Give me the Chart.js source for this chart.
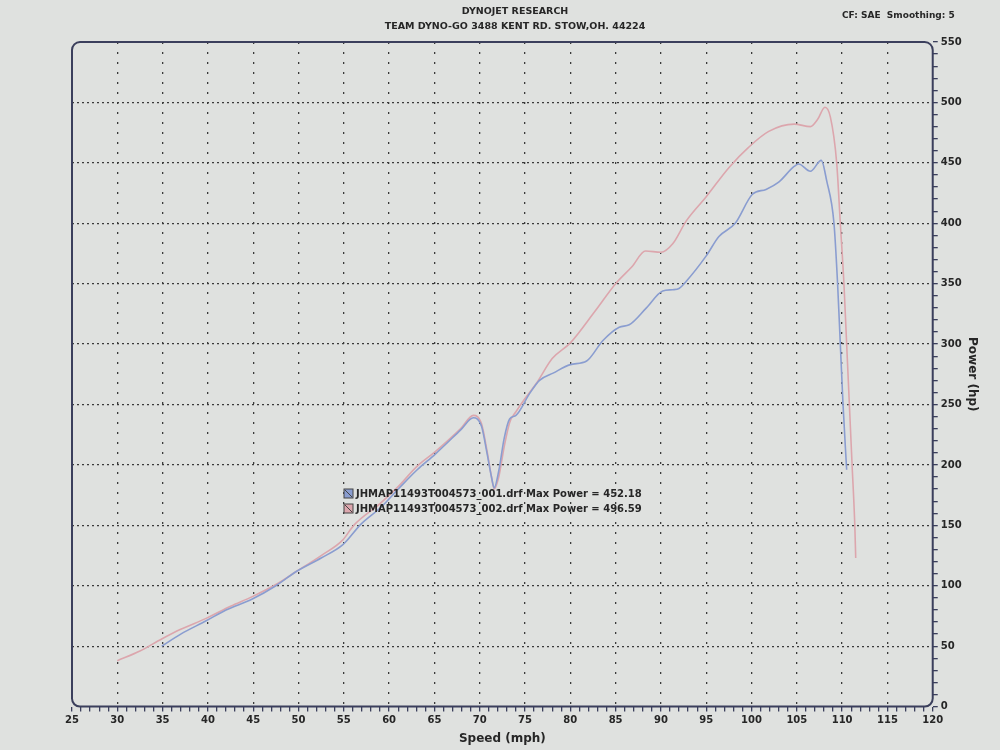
<!DOCTYPE html>
<html>
<head>
<meta charset="utf-8">
<script src="https://cdn.jsdelivr.net/npm/chart.js@4.4.1/dist/chart.umd.min.js"></script>
<style>
  html, body { margin: 0; padding: 0; background: #dfe1df; }
</style>
</head>
<body>
<canvas id="dyno" width="1000" height="750"></canvas>
<script>
// header texts
const headerLines = ['DYNOJET RESEARCH', 'TEAM DYNO-GO 3488 KENT RD. STOW,OH. 44224'];
const cornerNote = 'CF: SAE  Smoothing: 5';

// run names and peak values, as printed in the legend
const runNames = ['JHMAP11493T004573_001.drf', 'JHMAP11493T004573_002.drf'];
const maxPower = ['452.18', '496.59'];

// axis ranges (mph / hp)
const speedMin = 25, speedMax = 120, speedLabelStep = 5;
const powerMin = 0, powerMax = 550, powerLabelStep = 50;

// run 001 (blue)
const speedRun1 = [34.9, 37, 39.8, 42, 44.9, 47.5, 49.8, 52.5, 54.9, 56.9, 59.1, 61, 63.1, 65.1, 67.9, 69.3,
  70.2, 70.8, 71.3, 71.6, 72.1, 72.7, 73.3, 74, 75.5, 76.6, 78.1, 80, 81.8, 83.6, 85.4, 86.5, 88.4, 90.2,
  91.3, 92, 92.8, 95, 96.4, 98.2, 100.1, 101.6, 103, 104.7, 105.2, 106.5, 107.7, 108.3, 109.1, 109.5,
  109.8, 110.1, 110.5];
const powerRun1 = [50, 60, 71, 80, 89, 100, 112, 123, 134, 151, 165, 180, 196, 209, 229, 239,
  232, 210, 190, 181, 195, 222, 238, 241, 259, 270, 276, 283, 286, 303, 314, 316, 330, 344,
  345, 346, 352, 373, 389, 400, 424, 428, 434, 447, 449, 443, 452, 435, 400, 350,
  300, 250, 196];

// run 002 (red)
const speedRun2 = [30, 32.5, 34.9, 37, 39.8, 42.5, 44.9, 47.5, 49.8, 52.5, 54.9, 56.1, 59, 61, 63.1, 65.1,
  67.9, 69.3, 70.2, 70.8, 71.3, 71.6, 72.1, 72.7, 73.3, 74, 75, 76.3, 78, 80, 82.7, 85, 86.8, 88.3, 90,
  91.3, 92.8, 95, 97.5, 99.7, 101.9, 104.7, 106.5, 107.3, 108.1, 108.7, 109.4, 109.8, 110.2, 110.5,
  110.8, 111.1, 111.4, 111.5];
const powerRun2 = [38, 46, 56, 64, 73, 83, 91, 101, 112, 125, 138, 150, 168, 182, 199, 211,
  230, 241, 234, 212, 190, 180, 190, 215, 235, 244, 255, 268, 288, 301, 327, 350, 364, 377, 376,
  383, 402, 422, 446, 463, 476, 482, 480, 486, 496, 488, 450, 400, 350, 300,
  250, 200, 150, 123];

const blueLine = '#8a9dd0';
const redLine = '#dca6ad';
const ink = '#262626';
const frame = '#3b3f5c';
const gridDots = '#3a3a3a';

function toPoints(xs, ys) {
  return xs.map((x, i) => ({ x: x, y: ys[i] }));
}

const sheetPlugin = {
  id: 'sheet',
  beforeDraw(chart) {
    const ctx = chart.ctx;
    ctx.save();
    ctx.fillStyle = '#dfe1df';
    ctx.fillRect(0, 0, chart.width, chart.height);
    ctx.restore();
  },
  beforeDatasetsDraw(chart) {
    // rounded frame round the plot
    const a = chart.chartArea;
    const ctx = chart.ctx;
    ctx.save();
    ctx.strokeStyle = frame;
    ctx.lineWidth = 2;
    ctx.beginPath();
    ctx.roundRect(a.left, a.top, a.right - a.left, a.bottom - a.top, 8);
    ctx.stroke();
    ctx.restore();
  },
  afterDraw(chart) {
    const ctx = chart.ctx;
    ctx.save();
    ctx.fillStyle = ink;
    ctx.textBaseline = 'middle';
    ctx.textAlign = 'center';
    ctx.font = 'bold 9.5px "DejaVu Sans"';
    ctx.fillText(headerLines[0], 515, 12);
    ctx.fillText(headerLines[1], 515, 27);
    ctx.textAlign = 'left';
    ctx.font = 'bold 9px "DejaVu Sans"';
    ctx.fillText(cornerNote, 842, 16);

    // legend inside the plot
    const colors = [blueLine, redLine];
    ctx.font = 'bold 10px "DejaVu Sans"';
    for (let i = 0; i < 2; i++) {
      const y = 494 + i * 15;
      ctx.fillStyle = colors[i];
      ctx.fillRect(344, y - 5, 9, 9);
      ctx.strokeStyle = '#444';
      ctx.lineWidth = 1;
      ctx.strokeRect(344, y - 5, 9, 9);
      ctx.beginPath();
      ctx.moveTo(345, y - 4);
      ctx.lineTo(352, y + 3);
      ctx.stroke();
      ctx.fillStyle = ink;
      ctx.fillText(runNames[i] + ' Max Power = ' + maxPower[i], 356, y);
    }
    ctx.restore();
  }
};

new Chart(document.getElementById('dyno'), {
  type: 'line',
  data: {
    datasets: [
      {
        label: runNames[0],
        data: toPoints(speedRun1, powerRun1),
        borderColor: blueLine,
        borderWidth: 1.6,
        pointRadius: 0,
        cubicInterpolationMode: 'monotone',
        fill: false
      },
      {
        label: runNames[1],
        data: toPoints(speedRun2, powerRun2),
        borderColor: redLine,
        borderWidth: 1.6,
        pointRadius: 0,
        cubicInterpolationMode: 'monotone',
        fill: false
      }
    ]
  },
  options: {
    responsive: false,
    animation: false,
    layout: { padding: { top: 42, left: 72, right: 19, bottom: 4 } },
    plugins: {
      legend: { display: false },
      tooltip: { enabled: false }
    },
    scales: {
      x: {
        type: 'linear',
        min: speedMin,
        max: speedMax,
        border: { display: false, dash: [2, 8] },
        grid: {
          color: ctx => (ctx.tick.value % speedLabelStep === 0 && ctx.tick.value > speedMin && ctx.tick.value < speedMax) ? gridDots : 'rgba(0,0,0,0)',
          lineWidth: 1.3,
          tickColor: frame,
          tickLength: 5
        },
        ticks: {
          stepSize: 1,
          autoSkip: false,
          maxRotation: 0,
          padding: 3,
          color: ink,
          font: { family: 'DejaVu Sans', size: 10, weight: 'bold' },
          callback: v => (v % speedLabelStep === 0 ? String(v) : '')
        },
        title: {
          display: true,
          text: 'Speed (mph)',
          color: ink,
          font: { family: 'DejaVu Sans', size: 12, weight: 'bold' },
          padding: { top: 2, bottom: 0 }
        }
      },
      y: {
        position: 'right',
        min: powerMin,
        max: powerMax,
        border: { display: false, dash: [2, 3] },
        grid: {
          color: ctx => (ctx.tick.value % powerLabelStep === 0 && ctx.tick.value > powerMin && ctx.tick.value < powerMax) ? gridDots : 'rgba(0,0,0,0)',
          lineWidth: 1.3,
          tickColor: frame,
          tickLength: 5
        },
        ticks: {
          stepSize: 10,
          autoSkip: false,
          padding: 3,
          color: ink,
          font: { family: 'DejaVu Sans', size: 10, weight: 'bold' },
          callback: v => (v % powerLabelStep === 0 ? String(v) : '')
        },
        title: {
          display: true,
          text: 'Power (hp)',
          color: ink,
          font: { family: 'DejaVu Sans', size: 12, weight: 'bold' },
          padding: { top: 2, bottom: 0 }
        }
      }
    }
  },
  plugins: [sheetPlugin]
});
</script>
</body>
</html>
